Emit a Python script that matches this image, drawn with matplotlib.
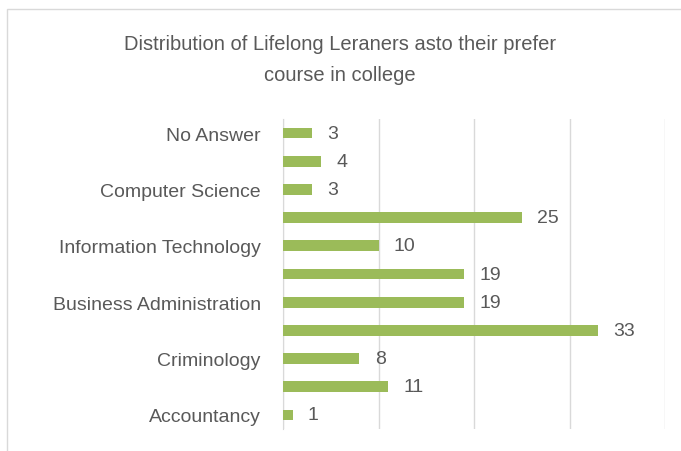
import matplotlib.pyplot as plt
from matplotlib.patches import Rectangle

# data, bottom to top (Excel skips every second label)
courses = ["Accountancy", "", "Criminology", "", "Business Administration", "",
           "Information Technology", "", "Computer Science", "", "No Answer"]
counts = [1, 11, 8, 33, 19, 19, 10, 25, 3, 4, 3]

title = "Distribution of Lifelong Leraners asto their prefer\ncourse in college"

txt_color = "#595959"
bar_color = "#9BBB59"
grid_color = "#D9D9D9"

plt.rcParams["font.family"] = ["Liberation Sans", "DejaVu Sans"]

fig = plt.figure(figsize=(6.81, 4.52), dpi=100)

# chart border like the Excel chart area
fig.patches.append(Rectangle((7 / 681, -0.1), 1.2, 1 - 10 / 452 + 0.1,
                             transform=fig.transFigure, fill=False,
                             edgecolor="#D9D9D9", linewidth=1))

ax = fig.add_axes([283 / 681, 1 - 430 / 452, (665 - 283) / 681, (430 - 120) / 452])

y = list(range(len(courses)))
ax.barh(y, counts, height=0.38, color=bar_color, zorder=3)

for yi, v in zip(y, counts):
    ax.annotate(str(v), (v, yi), xytext=(11, 0), textcoords="offset points",
                va="center", ha="left", fontsize=14, color=txt_color)

ax.set_xlim(0, 40)
ax.set_ylim(-0.5, len(courses) - 0.5)
ax.set_xticks([0, 10, 20, 30, 40])
ax.set_xticklabels([])
ax.tick_params(axis="x", length=0)
ax.grid(axis="x", color=grid_color, linewidth=1, zorder=0)

ax.set_yticks(y)
ax.set_yticklabels(courses, fontsize=14, color=txt_color)
ax.tick_params(axis="y", length=0, pad=16)

for s in ["top", "right", "bottom"]:
    ax.spines[s].set_visible(False)
ax.spines["left"].set_color(grid_color)

fig.text(340 / 681, 1 - 60 / 452, title, ha="center", va="center",
         fontsize=14.5, color=txt_color, linespacing=1.75)

fig.savefig("out.png", dpi=100)
